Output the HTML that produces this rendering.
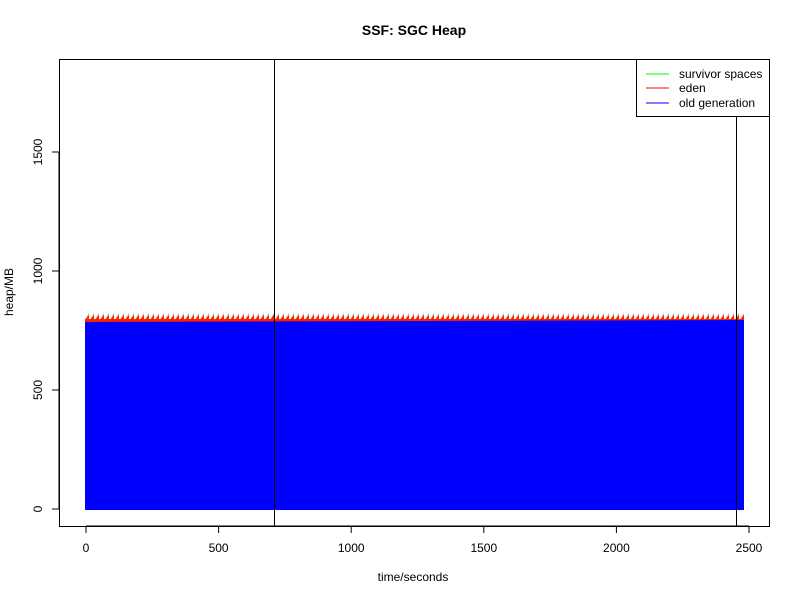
<!DOCTYPE html>
<html><head><meta charset="utf-8"><style>body{margin:0;background:#fff}</style></head><body>
<svg width="800" height="600" xmlns="http://www.w3.org/2000/svg" font-family="Liberation Sans, sans-serif">
<defs>
<pattern id="saw" x="85" y="0" width="5" height="10" patternUnits="userSpaceOnUse">
<rect x="0" y="0" width="5" height="10" fill="#fff"/>
<polygon points="0,10 4,3 4,10" fill="#c8a060"/>
<polygon points="0,10 4,5 4,10" fill="#ff2000"/>
</pattern>
</defs>
<text x="414" y="35" font-size="14" font-weight="bold" text-anchor="middle">SSF: SGC Heap</text>
<rect x="85" y="310" width="659" height="10" fill="url(#saw)"/>
<rect x="85" y="319" width="659" height="3" fill="#ff2000"/>
<polygon points="85,322 744,320 744,510 85,510" fill="#0000ff"/>
<rect x="59.5" y="59.5" width="710" height="467" fill="none" stroke="#000"/>
<line x1="274.5" y1="59" x2="274.5" y2="526" stroke="#000"/>
<line x1="736.5" y1="116" x2="736.5" y2="526" stroke="#000"/>
<rect x="636.5" y="59.5" width="133" height="57" fill="#fff" stroke="#000"/>
<line x1="646" y1="74" x2="669" y2="74" stroke="#00ff00"/>
<line x1="646" y1="88" x2="669" y2="88" stroke="#ff0000"/>
<line x1="646" y1="103" x2="669" y2="103" stroke="#0000ff"/>
<g font-size="12"><text x="679" y="78">survivor spaces</text><text x="679" y="92">eden</text><text x="679" y="107">old generation</text></g>
<g stroke="#000">
<line x1="86" y1="526" x2="749" y2="526"/>
<line x1="86" y1="526" x2="86" y2="533"/><line x1="218.6" y1="526" x2="218.6" y2="533"/><line x1="351.2" y1="526" x2="351.2" y2="533"/><line x1="483.8" y1="526" x2="483.8" y2="533"/><line x1="616.4" y1="526" x2="616.4" y2="533"/><line x1="749" y1="526" x2="749" y2="533"/>
<line x1="59" y1="509" x2="59" y2="152"/>
<line x1="52" y1="509" x2="59" y2="509"/><line x1="52" y1="390" x2="59" y2="390"/><line x1="52" y1="271" x2="59" y2="271"/><line x1="52" y1="152" x2="59" y2="152"/>
</g>
<g font-size="12" text-anchor="middle">
<text x="86" y="552">0</text><text x="218.6" y="552">500</text><text x="351.2" y="552">1000</text><text x="483.8" y="552">1500</text><text x="616.4" y="552">2000</text><text x="749" y="552">2500</text>
<text x="413" y="581">time/seconds</text>
<text transform="translate(42,509) rotate(-90)">0</text>
<text transform="translate(42,390) rotate(-90)">500</text>
<text transform="translate(42,271) rotate(-90)">1000</text>
<text transform="translate(42,152) rotate(-90)">1500</text>
<text transform="translate(13,292) rotate(-90)">heap/MB</text>
</g>
</svg>
</body></html>
